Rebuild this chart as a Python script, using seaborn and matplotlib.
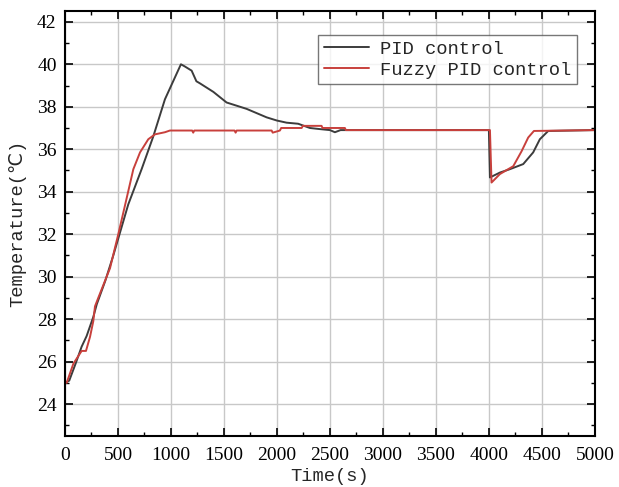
import numpy as np
import pandas as pd
import matplotlib
matplotlib.use("Agg")
import matplotlib.pyplot as plt
import seaborn as sns
from matplotlib.ticker import MultipleLocator

# PID control (black curve)
pid_time = [0, 40, 100, 157, 204, 267, 300, 380, 456, 597, 723, 833, 943,
            1094, 1130, 1195, 1240, 1274, 1400, 1525, 1588, 1714, 1903, 2000,
            2091, 2200, 2311, 2400, 2500, 2547, 2600, 4000, 4010, 4104, 4198,
            4324, 4418, 4481, 4560, 4990]
pid_temp = [25.0, 25.1, 25.9, 26.7, 27.2, 28.1, 28.7, 29.8, 31.0, 33.4, 35.06,
            36.6, 38.35, 40.0, 39.9, 39.7, 39.2, 39.1, 38.7, 38.2, 38.1, 37.9,
            37.5, 37.35, 37.25, 37.2, 37.0, 36.95, 36.9, 36.8, 36.9, 36.9,
            34.67, 34.9, 35.06, 35.3, 35.85, 36.47, 36.86, 36.9]

# Fuzzy PID control (red curve)
fuzzy_time = [0, 16, 79, 157, 198, 236, 267, 283, 314, 425, 503, 566, 645,
              708, 786, 849, 943, 990, 1200, 1210, 1220, 1600, 1610, 1620,
              1950, 1960, 2028, 2040, 2233, 2245, 2421, 2430, 2641, 2650, 4010,
              4025, 4104, 4230, 4308, 4371, 4425, 5000]
fuzzy_temp = [25.0, 25.0, 25.9, 26.5, 26.5, 27.16, 27.9, 28.6, 29.0, 30.4,
              32.0, 33.35, 35.06, 35.85, 36.47, 36.7, 36.8, 36.88, 36.88,
              36.78, 36.88, 36.88, 36.78, 36.88, 36.88, 36.78, 36.88, 37.0,
              37.0, 37.1, 37.1, 37.0, 37.0, 36.9, 36.9, 34.43, 34.83, 35.2,
              35.9, 36.55, 36.86, 36.9]

x_ticks = [0, 500, 1000, 1500, 2000, 2500, 3000, 3500, 4000, 4500, 5000]
y_ticks = [24, 26, 28, 30, 32, 34, 36, 38, 40, 42]

sns.set_theme(style="ticks")
plt.rcParams["font.family"] = ["Liberation Serif", "DejaVu Sans"]
plt.rcParams["xtick.direction"] = "in"
plt.rcParams["ytick.direction"] = "in"

pid = pd.DataFrame({"time": pid_time, "temp": pid_temp})
fuzzy = pd.DataFrame({"time": fuzzy_time, "temp": fuzzy_temp})

fig = plt.figure(figsize=(6.19, 4.87), dpi=100)
ax = fig.add_axes([0.105, 0.105, 0.856, 0.872])

sns.lineplot(data=pid, x="time", y="temp", ax=ax, sort=False, estimator=None,
             color="#3c3c3c", linewidth=1.4, label="PID control")
sns.lineplot(data=fuzzy, x="time", y="temp", ax=ax, sort=False, estimator=None,
             color="#c8403c", linewidth=1.4, label="Fuzzy PID control")

ax.set_xlim(0, 5000)
ax.set_ylim(22.5, 42.5)
ax.set_xticks(x_ticks)
ax.set_yticks(y_ticks)
ax.xaxis.set_minor_locator(MultipleLocator(250))
ax.yaxis.set_minor_locator(MultipleLocator(1))
ax.tick_params(which="both", top=True, right=True, labeltop=False,
               labelright=False, colors="black", labelsize=14)
ax.tick_params(axis="x", which="major", pad=8)
ax.tick_params(axis="y", which="major", pad=6)
ax.tick_params(which="major", length=6, width=1.2)
ax.tick_params(which="minor", length=3, width=1.0)
ax.grid(True, which="major", color="#c8c8c8", linewidth=1.0)
for sp in ax.spines.values():
    sp.set_color("black")
    sp.set_linewidth(1.5)

label_font = ["Liberation Mono", "DejaVu Sans"]
ax.set_xlabel("Time(s)", family=label_font, fontsize=13.5, labelpad=3)
ax.set_ylabel("Temperature(℃)", family=label_font, fontsize=13.5, labelpad=8)

leg = ax.legend(loc="upper right", bbox_to_anchor=(0.966, 0.944),
                prop={"family": label_font, "size": 13.5}, frameon=True,
                fancybox=False, edgecolor="#555555", handlelength=2.4,
                borderpad=0.3, labelspacing=0.2, handletextpad=0.6,
                borderaxespad=0.0)
leg.get_frame().set_linewidth(1.0)

fig.savefig("out.png", dpi=100)
